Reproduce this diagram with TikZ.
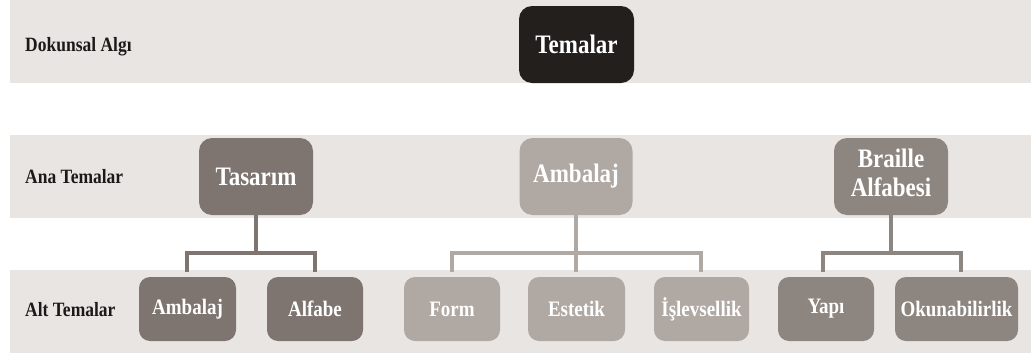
\documentclass[tikz,border=0pt]{standalone}
\usepackage{fontspec}
\usepackage{graphicx}
\setmainfont{Liberation Serif}
% taller letter shapes for all printed text
\newcommand{\tallText}[1]{\scalebox{1}[1.16]{#1}}
\begin{document}
\begin{tikzpicture}[x=1pt,y=-1pt,
  band/.style={fill=bandgray,draw=none},
  rowlabel/.style={anchor=west,text=labelink,font=\bfseries\fontsize{17.5}{20}\selectfont,inner sep=0pt},
  mainbox/.style={rounded corners=13pt,minimum height=77pt,align=center,text=white,
    font=\bfseries\fontsize{23}{25}\selectfont,inner sep=0pt},
  subbox/.style={rounded corners=11pt,minimum height=64pt,align=center,text=white,
    font=\bfseries\fontsize{19}{23}\selectfont,inner sep=0pt},
  conn/.style={line width=3.6pt}
]
\definecolor{bandgray}{HTML}{E9E5E2}
\definecolor{labelink}{HTML}{1C1A19}
\definecolor{rootfill}{HTML}{221F1C}
\definecolor{toneA}{HTML}{7E7570}
\definecolor{toneB}{HTML}{B0A8A3}
\definecolor{toneC}{HTML}{8D857F}

\useasboundingbox (0,0) rectangle (1031,354);
\fill[white] (0,0) rectangle (1031,354);

% horizontal bands
\fill[band] (10,0) rectangle (1031,83);
\fill[band] (10,135) rectangle (1031,218);
\fill[band] (10,270) rectangle (1031,353);

% row labels
\node[rowlabel] (l1) at (25,47) {\tallText{Dokunsal Algı}};
\node[rowlabel] (l2) at (25,177) {\tallText{Ana Temalar}};
\node[rowlabel] (l3) at (25,310) {\tallText{Alt Temalar}};

% root
\node[mainbox,fill=rootfill,minimum width=115pt] (root) at (576.5,44.5) {\tallText{Temalar}};

% main themes
\node[mainbox,fill=toneA,minimum width=114pt] (tas) at (256,176.5) {\tallText{Tasarım}};
\node[mainbox,fill=toneB,minimum width=113pt] (amb) at (576,176.5) {\tallText{Ambalaj}};
\node[mainbox,fill=toneC,minimum width=114pt] (bra) at (891,176.5)
  {\tallText{\begin{tabular}{@{}c@{}}Braille\\Alfabesi\end{tabular}}};

% sub themes
\node[subbox,fill=toneA,minimum width=97pt] (s1) at (187.5,309) {\tallText{Ambalaj}};
\node[subbox,fill=toneA,minimum width=96pt] (s2) at (315,309) {\tallText{Alfabe}};
\node[subbox,fill=toneB,minimum width=96pt] (s3) at (452,309) {\tallText{Form}};
\node[subbox,fill=toneB,minimum width=97pt] (s4) at (576.5,309) {\tallText{Estetik}};
\node[subbox,fill=toneB,minimum width=95pt] (s5) at (701.5,309) {\tallText{İşlevsellik}};
\node[subbox,fill=toneC,minimum width=96pt] (s6) at (826,309) {\tallText{Yapı}};
\node[subbox,fill=toneC,minimum width=123pt] (s7) at (956.5,309) {\tallText{Okunabilirlik}};

% bus junctions and drop ends
\coordinate (b1) at (256,253);
\coordinate (b2) at (576,253);
\coordinate (b3) at (891,253);
\coordinate (d1) at (187,272);
\coordinate (d2) at (315,272);
\coordinate (d3) at (452,272);
\coordinate (d4) at (576,272);
\coordinate (d5) at (701,272);
\coordinate (d6) at (823,272);
\coordinate (d7) at (961,272);

% connectors
\draw[conn,draw=toneA] (tas.south) -- (b1);
\draw[conn,draw=toneA] (d1) |- (b1) -| (d2);
\draw[conn,draw=toneB] (amb.south) -- (d4);
\draw[conn,draw=toneB] (d3) |- (b2) -| (d5);
\draw[conn,draw=toneC] (bra.south) -- (b3);
\draw[conn,draw=toneC] (d6) |- (b3) -| (d7);
\end{tikzpicture}
\end{document}
